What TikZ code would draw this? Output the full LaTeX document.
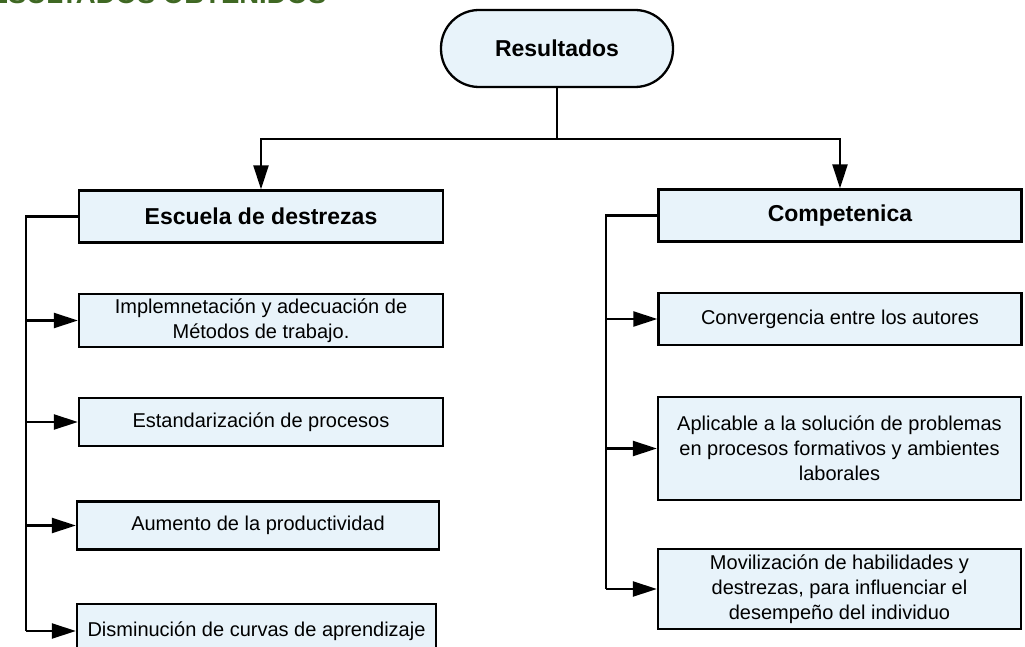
\documentclass[tikz,border=0pt]{standalone}
\usepackage{fontspec}
\setmainfont{Liberation Sans}
\usepackage{xcolor}
\usepackage{tikz}
\usetikzlibrary{arrows.meta}
\definecolor{boxblue}{RGB}{232,243,250}
\definecolor{titlegreen}{RGB}{63,104,35}
\tikzset{>={Triangle[length=24pt,width=15pt]}}
\tikzset{
  box/.style={draw=black, line width=2.3pt, fill=boxblue, align=center,
    inner sep=0pt, font=\fontsize{20}{25}\selectfont},
  headbox/.style={box, font=\fontsize{23}{28}\selectfont\bfseries,
    minimum height=52pt},
  leftbox/.style={box, minimum width=364pt},
  rightbox/.style={box, minimum width=363pt},
  link/.style={line width=2.3pt}
}

\begin{document}
\begin{tikzpicture}[x=1pt, y=-1pt]
      \useasboundingbox (0,0) rectangle (1025,647);
      \node (title) [anchor=base east, text=titlegreen,
        font=\fontsize{27.5}{30}\selectfont\bfseries] at (330,4) {RESULTADOS OBTENIDOS};

      \node (res) [box, font=\fontsize{23}{28}\selectfont\bfseries,
        rounded corners=38pt, minimum width=232pt, minimum height=77pt] at (557,48.5) {Resultados};
      \node (esc) [headbox, minimum width=364pt] at (261,216.5) {Escuela de destrezas};
      \node (comp) [headbox, minimum width=363pt] at (840,215.5) {Competenica};

      \node (imp) [leftbox, minimum height=53pt] at (261,320.5)
        {Implemnetación y adecuación de\\Métodos de trabajo.};
      \node (est) [leftbox, minimum height=48pt] at (261,422) {Estandarización de procesos};
      \node (aum) [leftbox, minimum width=362pt, minimum height=48pt] at (258,525.5) {Aumento de la productividad};
      \node (dis) [leftbox, minimum width=359pt, minimum height=54pt] at (256.5,631) {Disminución de curvas de aprendizaje};

      \node (conv) [rightbox, minimum height=52pt] at (840,319) {Convergencia entre los autores};
      \node (apl) [rightbox, minimum height=103pt] at (839.5,448.5)
        {Aplicable a la solución de problemas\\en procesos formativos y ambientes\\laborales};
      \node (mov) [rightbox, minimum height=80pt] at (839.5,589)
        {Movilización de habilidades y\\destrezas, para influenciar el\\desempeño del individuo};

      \coordinate (split) at (557,139);
      \coordinate (lx) at (25.7,0);
      \coordinate (rx) at (605.7,0);

      \draw[link] (res.south) -- (split);
      \draw[link, ->] (split) -| (esc.north);
      \draw[link, ->] (split) -| (comp.north);

      \draw[link] (esc.west) -| (lx |- dis.west);
      \draw[link, ->] (lx |- imp.west) -- (imp.west);
      \draw[link, ->] (lx |- est.west) -- (est.west);
      \draw[link, ->] (lx |- aum.west) -- (aum.west);
      \draw[link, ->] (lx |- dis.west) -- (dis.west);

      \draw[link] (comp.west) -| (rx |- mov.west);
      \draw[link, ->] (rx |- conv.west) -- (conv.west);
      \draw[link, ->] (rx |- apl.west) -- (apl.west);
      \draw[link, ->] (rx |- mov.west) -- (mov.west);
\end{tikzpicture}
\end{document}
